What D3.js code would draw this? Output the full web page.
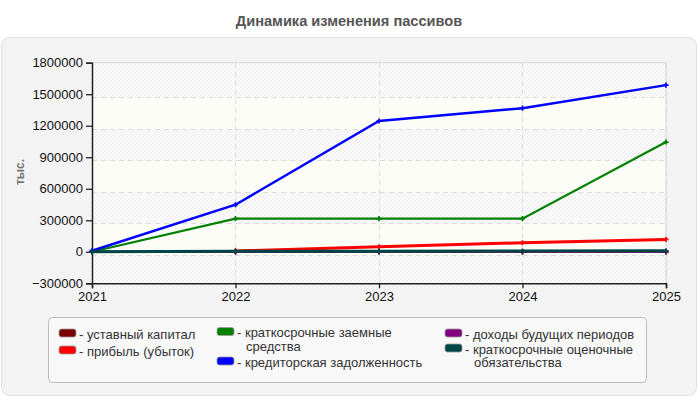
<!DOCTYPE html>
<html><head><meta charset="utf-8">
<script src="https://cdn.jsdelivr.net/npm/d3@7"></script>
<style>
html,body{margin:0;padding:0;background:#fff;}
svg{display:block;font-family:Arial,"Liberation Sans",sans-serif;}
</style></head>
<body><svg id="c" width="700" height="400"></svg>
<script>
const years = ["2021","2022","2023","2024","2025"];
const ustavny = [0, 0, 0, 0, 0];
const pribyl = [null, 8000, 47000, 86000, 118000];
const kratkZaem = [0, 315000, 315000, 315000, 1045000];
const kreditor = [10000, 448000, 1245000, 1367000, 1586000];
const dohody = [0, 0, 0, 0, 0];
const ocenoch = [0, 4000, 6000, 7000, 9000];
const yTicks = [-300000, 0, 300000, 600000, 900000, 1200000, 1500000, 1800000];
const seriesNames = ["уставный капитал","прибыль (убыток)","краткосрочные заемные средства","кредиторская задолженность","доходы будущих периодов","краткосрочные оценочные обязательства"];
const seriesColors = ["#7a0000","#ff0000","#008000","#0000ff","#800080","#004545"];
const seriesValues = [ustavny, pribyl, kratkZaem, kreditor, dohody, ocenoch];
const seriesWidths = [2, 3, 2.2, 2.4, 2, 3];
const drawOrder = [0, 4, 1, 2, 3, 5];

const svg = d3.select("#c");
const defs = svg.append("defs");
const pat = defs.append("pattern").attr("id","hatch").attr("patternUnits","userSpaceOnUse")
  .attr("width",4).attr("height",4);
pat.append("rect").attr("width",4).attr("height",4).attr("fill","#fbfbfb");
pat.append("path").attr("d","M-1,1 l2,-2 M0,4 l4,-4 M3,5 l2,-2").attr("stroke","#ebebeb").attr("stroke-width",1);

svg.append("rect").attr("x",1.5).attr("y",37.5).attr("width",695).attr("height",358)
  .attr("rx",8).attr("fill","#f3f3f3").attr("stroke","#e0e0e0");

svg.append("text").attr("x",349).attr("y",26).attr("text-anchor","middle")
  .attr("font-size",14.6).attr("font-weight","bold").attr("fill","#555")
  .text("Динамика изменения пассивов");

const L = 92, R = 666, T = 62.7, B = 283.3;
const x = d3.scalePoint().domain(years).range([L, R]);
const y = d3.scaleLinear().domain([-300000, 1800000]).range([B, T]);
const gOff = 3.5;

const plot = svg.append("g");
plot.append("rect").attr("x",L).attr("y",T).attr("width",R-L).attr("height",B-T).attr("fill","url(#hatch)");
const bandPairs = [[1500000,1200000],[900000,600000],[300000,0]];
plot.selectAll("rect.band").data(bandPairs).join("rect").attr("class","band")
  .attr("x",L).attr("width",R-L)
  .attr("y",d=>y(d[0])+gOff).attr("height",d=>y(d[1])-y(d[0]))
  .attr("fill","#fcfdf6");
plot.selectAll("line.hg").data(yTicks.filter(v=>v>-300000 && v<1800000)).join("line").attr("class","hg")
  .attr("x1",L).attr("x2",R).attr("y1",d=>y(d)+gOff).attr("y2",d=>y(d)+gOff)
  .attr("stroke","#dcdcdc").attr("stroke-dasharray","5,4").attr("shape-rendering","crispEdges");
plot.selectAll("line.vg").data(years.slice(1)).join("line").attr("class","vg")
  .attr("x1",d=>x(d)).attr("x2",d=>x(d)).attr("y1",T).attr("y2",B)
  .attr("stroke","#dcdcdc").attr("stroke-dasharray","5,4").attr("shape-rendering","crispEdges");
plot.append("path").attr("d",`M${L},${T}H${R}V${B}`).attr("fill","none").attr("stroke","#dddddd").attr("stroke-width",1.2);

const yAxis = d3.axisLeft(y).tickValues(yTicks).tickSize(6).tickPadding(3).tickFormat(d3.format("d"));
const gy = svg.append("g").attr("transform",`translate(${L},0)`).call(yAxis);
const xAxis = d3.axisBottom(x).tickSize(5).tickPadding(3);
const gx = svg.append("g").attr("transform",`translate(0,${B})`).call(xAxis);
[gy,gx].forEach(g=>{
  g.select(".domain").attr("stroke","#222").attr("stroke-width",1.5);
  g.selectAll(".tick line").attr("stroke","#222").attr("stroke-width",1.3);
  g.selectAll("text").attr("font-size",13).attr("fill","#111").attr("font-family","Arial,'Liberation Sans',sans-serif");
});

svg.append("text").attr("transform","translate(24,172) rotate(-90)").attr("text-anchor","middle")
  .attr("font-size",12).attr("font-weight","bold").attr("fill","#777").text("тыс.");

const line = d3.line().defined(d=>d.v!=null).x(d=>x(d.k)).y(d=>y(d.v));
drawOrder.forEach(i=>{
  const pts = years.map((k,j)=>({k, v: seriesValues[i][j]}));
  svg.append("path").datum(pts).attr("d",line).attr("fill","none")
    .attr("stroke",seriesColors[i]).attr("stroke-width",seriesWidths[i]);
  svg.selectAll(null).data(pts.filter(p=>p.v!=null)).join("path")
    .attr("transform",p=>`translate(${x(p.k)},${y(p.v)})`)
    .attr("d",d3.symbol(d3.symbolCross,15)).attr("fill",seriesColors[i]);
});

const lg = svg.append("g");
lg.append("rect").attr("x",48.5).attr("y",317.5).attr("width",598).attr("height",65).attr("rx",4)
  .attr("fill","#f8f8f8").attr("stroke","#bbb");
const legendItems = [
  {i:0, sx:59, lines:[{t:"- уставный капитал", y:338.5}]},
  {i:1, sx:59, lines:[{t:"- прибыль (убыток)", y:355.5}]},
  {i:2, sx:217, lines:[{t:"- краткосрочные заемные", y:337},{t:"средства", y:350.5}]},
  {i:3, sx:217, lines:[{t:"- кредиторская задолженность", y:366.5}]},
  {i:4, sx:445, lines:[{t:"- доходы будущих периодов", y:338.5}]},
  {i:5, sx:445, lines:[{t:"- краткосрочные оценочные", y:353.5},{t:"обязательства", y:367}]}
];
legendItems.forEach(it=>{
  const y0 = it.lines[0].y;
  lg.append("rect").attr("x",it.sx).attr("y",y0-9.5).attr("width",17).attr("height",8).attr("rx",2.5)
    .attr("fill",seriesColors[it.i]).attr("stroke","#999").attr("stroke-width",0.8);
  it.lines.forEach((ln,k)=>{
    lg.append("text").attr("x", k===0 ? it.sx+20 : it.sx+29).attr("y",ln.y)
      .attr("font-size",13).attr("fill","#333").text(ln.t);
  });
});
</script></body></html>
